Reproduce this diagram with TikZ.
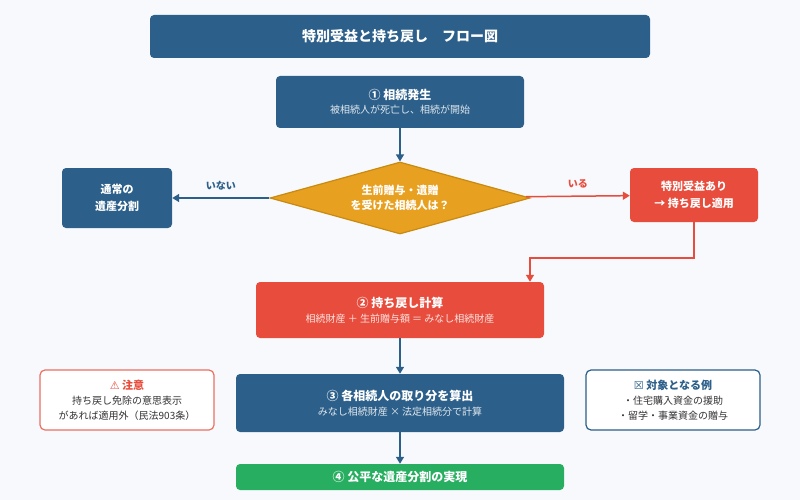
\documentclass[tikz,border=0pt]{standalone}
\usepackage{fontspec}
\setmainfont{Noto Sans CJK JP}
\newfontfamily\symfont{DejaVu Sans}
\usetikzlibrary{shapes.geometric,arrows.meta}
\definecolor{navy}{HTML}{2C5F8A}
\definecolor{tomato}{HTML}{E74C3C}
\definecolor{amber}{HTML}{E8A020}
\definecolor{amberline}{HTML}{C98A10}
\definecolor{leaf}{HTML}{27AE60}
\definecolor{paper}{HTML}{F7F9FC}
\definecolor{ink}{HTML}{333333}
\tikzset{
  box/.style={draw=none,rounded corners=4pt,text=white,align=center,inner sep=0pt},
  note/.style={draw,fill=white,rounded corners=5pt,line width=1.2pt,inner sep=0pt,align=center,text=ink},
  flow/.style={-{Triangle[length=7pt,width=8pt]},line width=1.5pt},
  sub/.style={font=\fontsize{10}{12}\selectfont,text=white!85!navy}
}
\begin{document}
\begin{tikzpicture}[x=1pt,y=-1pt]
  \fill[paper] (0,0) rectangle (800,500);
  \useasboundingbox (0,0) rectangle (800,500);

  %% title
  \node[box,fill=navy,minimum width=500pt,minimum height=43pt,font=\bfseries\fontsize{14}{16}\selectfont] (title) at (400,36.5) {特別受益と持ち戻し　フロー図};

  %% main steps
  \node[box,fill=navy,minimum width=248pt,minimum height=52pt] (start) at (400,102)
    {{\bfseries\fontsize{12}{14}\selectfont ① 相続発生}\\[2pt]{\fontsize{10}{12}\selectfont\color{white!85!navy}被相続人が死亡し、相続が開始}};
  \node[diamond,aspect=3.6,fill=amber,draw=amberline,line width=1.2pt,inner sep=1pt,minimum width=260pt,minimum height=72pt,text=white,align=center,font=\bfseries\fontsize{11}{15}\selectfont] (ask) at (400,198)
    {生前贈与・遺贈\\を受けた相続人は？};
  \node[box,fill=navy,minimum width=110pt,minimum height=60pt,font=\bfseries\fontsize{11}{17}\selectfont] (normal) at (117,198) {通常の\\遺産分割};
  \node[box,fill=tomato,minimum width=128pt,minimum height=54pt,font=\bfseries\fontsize{11}{17}\selectfont] (special) at (694,195) {特別受益あり\\→ 持ち戻し適用};
  \node[box,fill=tomato,minimum width=288pt,minimum height=56pt] (calc) at (400,310)
    {{\bfseries\fontsize{12}{14}\selectfont ② 持ち戻し計算}\\[3pt]{\fontsize{10}{12}\selectfont\color{white!85!tomato}相続財産 ＋ 生前贈与額 ＝ みなし相続財産}};
  \node[box,fill=navy,minimum width=328pt,minimum height=58pt] (share) at (400,403)
    {{\bfseries\fontsize{12}{14}\selectfont ③ 各相続人の取り分を算出}\\[3pt]{\fontsize{10}{12}\selectfont\color{white!85!navy}みなし相続財産 × 法定相続分で計算}};
  \node[box,fill=leaf,minimum width=328pt,minimum height=26pt,font=\bfseries\fontsize{12}{14}\selectfont] (fair) at (400,477) {④ 公平な遺産分割の実現};

  %% side notes
  \node[note,draw=tomato!80,minimum width=174pt,minimum height=60pt,font=\fontsize{10}{15}\selectfont] (caution) at (127,400)
    {{\color{tomato}\bfseries\fontsize{11}{15}\selectfont{\symfont ⚠} 注意}\\持ち戻し免除の意思表示\\があれば適用外（民法903条）};
  \node[note,draw=navy,minimum width=174pt,minimum height=60pt,font=\fontsize{10}{15}\selectfont] (cases) at (673,400)
    {{\color{navy}\bfseries\fontsize{11}{15}\selectfont{\symfont ☒} 対象となる例}\\・住宅購入資金の援助\\・留学・事業資金の贈与};

  %% connectors
  \draw[flow,navy] (start) -- (ask);
  \draw[flow,navy] (ask) -- node[above=4pt,font=\bfseries\fontsize{10}{12}\selectfont] {いない} (normal);
  \draw[flow,tomato] (ask) -- node[above=4pt,font=\bfseries\fontsize{10}{12}\selectfont] {いる} (special);
  \draw[flow,tomato] (special.south) |- (530,258) -- (calc.north -| 530,0);
  \draw[flow,navy] (calc) -- (share);
  \draw[flow,navy] (share) -- (fair);
\end{tikzpicture}
\end{document}
